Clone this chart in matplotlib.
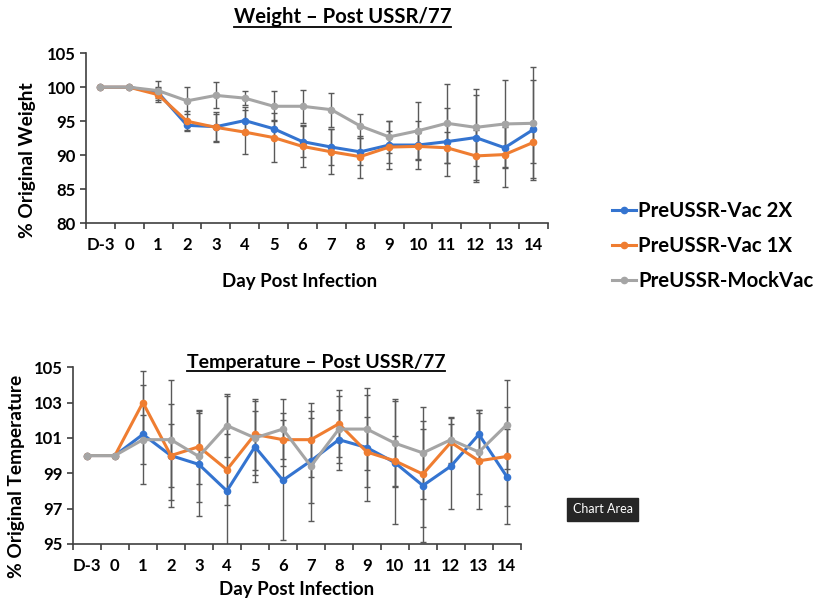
import matplotlib
matplotlib.use("Agg")
import matplotlib.pyplot as plt
import numpy as np
from matplotlib.lines import Line2D

plt.rcParams['font.family'] = ['Lato', 'DejaVu Sans']
plt.rcParams['font.weight'] = 'bold'

days = ["D-3", "0", "1", "2", "3", "4", "5", "6", "7", "8", "9", "10", "11", "12", "13", "14"]
series_names = ["PreUSSR-Vac 2X", "PreUSSR-Vac 1X", "PreUSSR-MockVac"]
series_colors = ["#3474d0", "#ef7d31", "#a5a5a5"]

# weight (% of original)
weight_vac2x = [100, 100, 99.2, 94.4, 94.2, 95.1, 93.9, 92.0, 91.2, 90.5, 91.5, 91.5, 92.0, 92.6, 91.1, 93.8]
weight_vac1x = [100, 100, 98.9, 95.0, 94.1, 93.4, 92.6, 91.3, 90.5, 89.8, 91.2, 91.3, 91.1, 89.9, 90.1, 91.9]
weight_mock = [100, 100, 99.5, 98.0, 98.8, 98.4, 97.2, 97.2, 96.7, 94.3, 92.7, 93.6, 94.7, 94.1, 94.6, 94.7]
weight_err_vac2x = [0, 0, 0.8, 0.7, 2.2, 2.0, 1.3, 2.3, 2.6, 2.0, 3.5, 3.5, 5.0, 6.3, 3.0, 7.2]
weight_err_vac1x = [0, 0, 1.0, 1.5, 2.0, 3.2, 3.6, 3.1, 3.3, 3.1, 2.4, 2.0, 2.3, 3.8, 4.8, 3.0]
weight_err_mock = [0, 0, 1.4, 2.0, 1.9, 1.0, 2.2, 2.4, 2.5, 1.8, 2.4, 4.2, 5.8, 5.7, 6.4, 8.3]

# temperature (% of original)
temp_vac2x = [100, 100, 101.2, 100.0, 99.5, 98.0, 100.5, 98.6, 99.7, 100.9, 100.45, 99.6, 98.3, 99.4, 101.2, 98.8]
temp_vac1x = [100, 100, 103.0, 100.0, 100.5, 99.2, 101.2, 100.9, 100.9, 101.8, 100.2, 99.7, 98.95, 100.75, 99.7, 99.95]
temp_mock = [100, 100, 100.9, 100.9, 99.95, 101.7, 101.0, 101.5, 99.4, 101.5, 101.5, 100.7, 100.15, 100.9, 100.2, 101.75]
temp_err_vac2x = [0, 0, 2.8, 2.9, 2.9, 5.4, 2.0, 3.4, 2.4, 1.7, 3.0, 3.5, 3.2, 2.4, 1.4, 2.7]
temp_err_vac1x = [0, 0, 1.8, 1.8, 2.1, 2.0, 2.0, 1.5, 2.1, 1.9, 2.0, 1.4, 3.0, 1.4, 2.7, 2.8]
temp_err_mock = [0, 0, 1.4, 3.4, 2.6, 1.8, 2.1, 1.7, 3.1, 1.9, 2.3, 2.5, 2.6, 1.3, 2.4, 2.5]


def draw_panel(ax, values, errors, ylim, yticks):
    x = np.arange(len(days))
    for vals, errs, color, name in zip(values, errors, series_colors, series_names):
        ax.errorbar(x, vals, yerr=errs, fmt='none', ecolor='#595959', elinewidth=1,
                    capsize=2.5, capthick=1, zorder=2)
        ax.plot(x, vals, color=color, lw=2.2, marker='o', markersize=4.5, label=name, zorder=3)
    ax.set_xlim(-0.5, len(days) - 0.5)
    ax.set_ylim(*ylim)
    ax.set_yticks(yticks)
    ax.set_xticks(np.arange(len(days) + 1) - 0.5)
    ax.set_xticklabels([])
    ax.set_xticks(x, minor=True)
    ax.set_xticklabels(days, minor=True)
    ax.tick_params(axis='x', which='major', length=4, width=1.2, color='#404040', direction='out')
    ax.tick_params(axis='x', which='minor', length=0, pad=10, labelsize=12)
    ax.tick_params(axis='y', length=4, width=1.2, color='#404040', labelsize=12)
    for s in ['top', 'right']:
        ax.spines[s].set_visible(False)
    for s in ['left', 'bottom']:
        ax.spines[s].set_color('#404040')
        ax.spines[s].set_linewidth(1.2)
    for lab in ax.get_xticklabels(minor=True) + ax.get_yticklabels():
        lab.set_fontweight('bold')


def underlined_title(fig, x, y, text, size):
    t = fig.text(x, y, text, ha='center', va='baseline', fontsize=size, fontweight='bold')
    fig.canvas.draw()
    bb = t.get_window_extent().transformed(fig.transFigure.inverted())
    fig.add_artist(Line2D([bb.x0, bb.x1], [y - 0.006, y - 0.006], color='black', lw=1.3,
                          transform=fig.transFigure))


fig = plt.figure(figsize=(8.19, 6.05), dpi=100)

ax1 = fig.add_axes([0.105, 0.631, 0.564, 0.281])
draw_panel(ax1, [weight_vac2x, weight_vac1x, weight_mock],
           [weight_err_vac2x, weight_err_vac1x, weight_err_mock],
           (80, 105), [80, 85, 90, 95, 100, 105])
ax1.set_xlabel("Day Post Infection", fontsize=13.5, fontweight='bold')
ax1.xaxis.set_label_coords(0.463, -0.29)
ax1.set_ylabel("% Original Weight", fontsize=13.8, fontweight='bold')
ax1.yaxis.set_label_coords(-0.108, 0.37)

ax2 = fig.add_axes([0.089, 0.101, 0.547, 0.292])
draw_panel(ax2, [temp_vac2x, temp_vac1x, temp_mock],
           [temp_err_vac2x, temp_err_vac1x, temp_err_mock],
           (95, 105), [95, 97, 99, 101, 103, 105])
ax2.set_xlabel("Day Post Infection", fontsize=13.5, fontweight='bold', labelpad=5)
ax2.set_ylabel("% Original Temperature", fontsize=13.8, fontweight='bold')
ax2.yaxis.set_label_coords(-0.106, 0.38)

handles, labels = ax1.get_legend_handles_labels()
fig.legend(handles, labels, loc='upper left', bbox_to_anchor=(0.747, 0.668), frameon=False,
           handlelength=1.2, handletextpad=0.1, labelspacing=0.74,
           borderpad=0, borderaxespad=0,
           prop={'weight': 'bold', 'size': 14.7})

underlined_title(fig, 0.418, 0.962, "Weight \u2013 Post USSR/77", 14.6)
underlined_title(fig, 0.386, 0.392, "Temperature \u2013 Post USSR/77", 14)

# tooltip left in the screenshot
fig.text(0.736, 0.158, "Chart Area", color='white', fontsize=9, fontweight='normal',
         ha='center', va='center',
         bbox=dict(boxstyle='square,pad=0.45', fc='#262626', ec='#262626'))

fig.savefig("out.png", dpi=100)
